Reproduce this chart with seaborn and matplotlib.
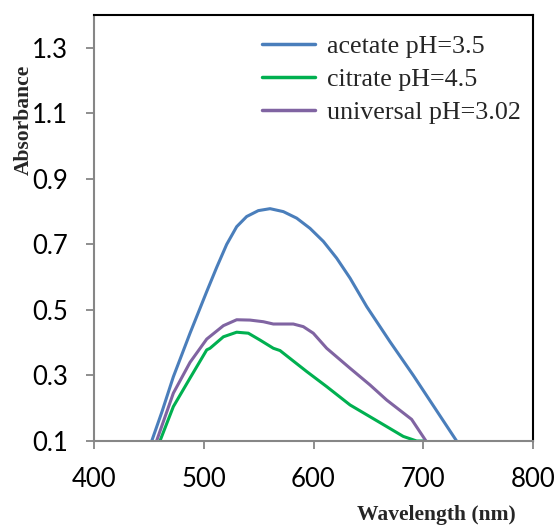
import matplotlib
matplotlib.use("Agg")
import matplotlib.pyplot as plt
import seaborn as sns
import pandas as pd

# ---- data ----
series_names = ["acetate pH=3.5", "citrate pH=4.5", "universal pH=3.02"]

acetate_wl = [452.6, 462, 472.3, 487.5, 502.7, 511.8, 520.9, 530, 539.1, 549.7,
              560.4, 572.5, 584.7, 596.8, 609, 621.1, 633.3, 648.5, 669.7, 691,
              710.7, 730.4]
acetate_abs = [0.10, 0.19, 0.296, 0.429, 0.556, 0.630, 0.700, 0.754, 0.785, 0.803,
               0.809, 0.800, 0.780, 0.749, 0.709, 0.658, 0.597, 0.510, 0.403, 0.300,
               0.200, 0.100]

citrate_wl = [460.1, 472.3, 487.5, 502.7, 505.7, 517.9, 530, 540.6, 551.3, 563.4,
              569.5, 578.6, 593.8, 612, 633.3, 648.5, 666.7, 681.8, 694, 701.5]
citrate_abs = [0.10, 0.205, 0.292, 0.378, 0.383, 0.418, 0.432, 0.429, 0.408, 0.383,
               0.376, 0.352, 0.312, 0.266, 0.210, 0.180, 0.144, 0.114, 0.100, 0.100]

universal_wl = [457, 472.3, 487.5, 502.7, 517.9, 530, 542.1, 554.3, 563.4, 581.6,
                590.7, 599.8, 612, 633.3, 651.5, 666.7, 689.4, 702.5]
universal_abs = [0.10, 0.246, 0.340, 0.411, 0.452, 0.470, 0.469, 0.464, 0.457, 0.457,
                 0.449, 0.429, 0.383, 0.322, 0.271, 0.225, 0.166, 0.100]

x_ticks = [400, 500, 600, 700, 800]
y_ticks = [0.1, 0.3, 0.5, 0.7, 0.9, 1.1, 1.3]

colors = ["#4A7EBB", "#00B050", "#8064A2"]

frames = []
for name, wl, ab in zip(series_names,
                        [acetate_wl, citrate_wl, universal_wl],
                        [acetate_abs, citrate_abs, universal_abs]):
    frames.append(pd.DataFrame({"Wavelength": wl, "Absorbance": ab, "Series": name}))
df = pd.concat(frames, ignore_index=True)

sns.set_style("ticks")
plt.rcParams["font.family"] = ["Lato", "DejaVu Sans"]

fig = plt.figure(figsize=(5.56, 5.25), dpi=100)
ax = fig.add_axes([94/556, 84/525, (533-94)/556, (441-15)/525])

sns.lineplot(data=df, x="Wavelength", y="Absorbance", hue="Series",
             hue_order=series_names, palette=colors, sort=False,
             linewidth=2.2, ax=ax, estimator=None)

ax.set_xlim(400, 800)
ax.set_ylim(0.1, 1.4)
ax.set_xticks(x_ticks)
ax.set_xticklabels([str(t) for t in x_ticks])
ax.set_yticks(y_ticks)
ax.set_yticklabels([f"{t:.1f}" for t in y_ticks])
ax.tick_params(axis="both", direction="out", length=5.5, width=1.3,
               color="#868686", labelsize=18.5, labelcolor="black")
ax.tick_params(axis="y", pad=13)
ax.tick_params(axis="x", pad=13)

for s in ["left", "bottom"]:
    ax.spines[s].set_color("#868686")
    ax.spines[s].set_linewidth(1.5)
for s in ["top", "right"]:
    ax.spines[s].set_visible(True)
    ax.spines[s].set_color("black")
    ax.spines[s].set_linewidth(1.5)

serif = ["Liberation Serif", "DejaVu Serif"]
ax.set_xlabel("Wavelength (nm)", fontsize=15.5, fontweight="bold", family=serif)
ax.set_ylabel("Absorbance", fontsize=15.5, fontweight="bold", family=serif)
ax.xaxis.set_label_coords(0.78, -0.15)
ax.yaxis.set_label_coords(-0.138, 0.754)

handles, labels = ax.get_legend_handles_labels()
leg = ax.legend(handles, labels, loc="upper left", bbox_to_anchor=(0.383, 0.953),
                frameon=False, borderpad=0, borderaxespad=0,
                handlelength=2.04, handletextpad=0.46, labelspacing=0.38,
                prop={"family": serif, "size": 18.7})
for line in leg.get_lines():
    line.set_linewidth(2.5)

fig.savefig("out.png", dpi=100)
